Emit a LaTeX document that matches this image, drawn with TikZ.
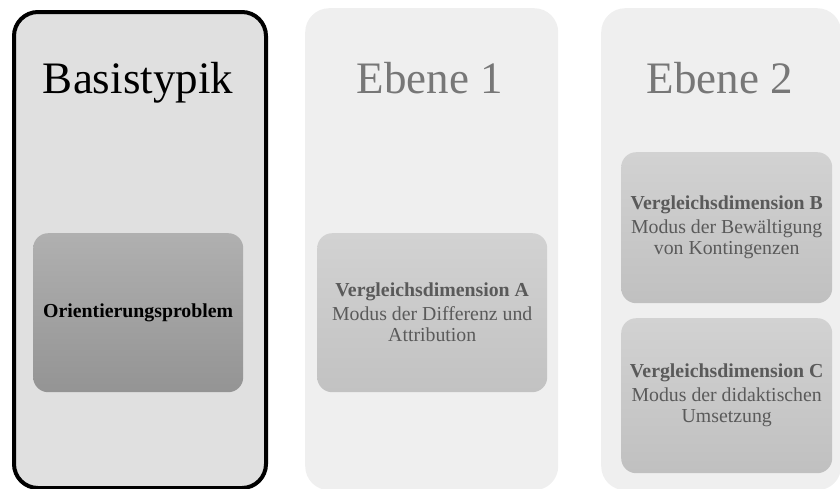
\documentclass[tikz,border=0pt]{standalone}
\usepackage{fontspec}
\setmainfont{Liberation Serif}
\usetikzlibrary{positioning}
\definecolor{panelA}{HTML}{E0E0E0}
\definecolor{panelB}{HTML}{EFEFEF}
\definecolor{titlegray}{HTML}{777777}
\definecolor{textgray}{HTML}{5A5A5A}
\tikzset{
  panel/.style={rounded corners=24pt, inner sep=0pt, anchor=north west},
  title/.style={font=\fontsize{45}{50}\selectfont, anchor=base, inner sep=0pt},
  innerbox/.style={rounded corners=15pt, inner sep=0pt, anchor=north west},
  boxtext/.style={font=\fontsize{19.8}{21}\selectfont, align=center, text=textgray, anchor=center},
}
\begin{document}
\begin{tikzpicture}[x=1pt,y=-1pt]
\useasboundingbox (0,0) rectangle (840,488);
% panels
\node[panel, fill=panelA, draw=black, line width=4pt, minimum width=252pt, minimum height=476pt] (p1) at (12,10) {};
\node[panel, fill=panelB, minimum width=253pt, minimum height=482pt] (p2) at (305,8) {};
\node[panel, fill=panelB, minimum width=240pt, minimum height=482pt] (p3) at (601,8) {};
% titles
\node[title, text=black] (t1) at (138,93) {Basistypik};
\node[title, text=titlegray] (t2) at (430,93) {Ebene 1};
\node[title, text=titlegray] (t3) at (720,93) {Ebene 2};
% inner boxes
\node[innerbox, top color={rgb,255:red,176;green,176;blue,176}, bottom color={rgb,255:red,148;green,148;blue,148}, minimum width=210pt, minimum height=159pt] (b0) at (33,233) {};
\node[innerbox, top color={rgb,255:red,210;green,210;blue,210}, bottom color={rgb,255:red,194;green,194;blue,194}, minimum width=230pt, minimum height=159pt] (bA) at (317,233) {};
\node[innerbox, top color={rgb,255:red,210;green,210;blue,210}, bottom color={rgb,255:red,192;green,192;blue,192}, minimum width=211pt, minimum height=151pt] (bB) at (621,152) {};
\node[innerbox, top color={rgb,255:red,210;green,210;blue,210}, bottom color={rgb,255:red,192;green,192;blue,192}, minimum width=211pt, minimum height=155pt] (bC) at (621,318) {};
% texts
\node[boxtext, text=black] (x0) at (b0.center) {\textbf{Orientierungsproblem}};
\node[boxtext] (xA) at (bA.center) {\textbf{Vergleichsdimension A}\\[3pt]Modus der Differenz und\\Attribution};
\node[boxtext] (xB) at (bB.center) {\textbf{Vergleichsdimension B}\\[3pt]Modus der Bewältigung\\von Kontingenzen};
\node[boxtext] (xC) at (bC.center) {\textbf{Vergleichsdimension C}\\[3pt]Modus der didaktischen\\Umsetzung};
\end{tikzpicture}
\end{document}
